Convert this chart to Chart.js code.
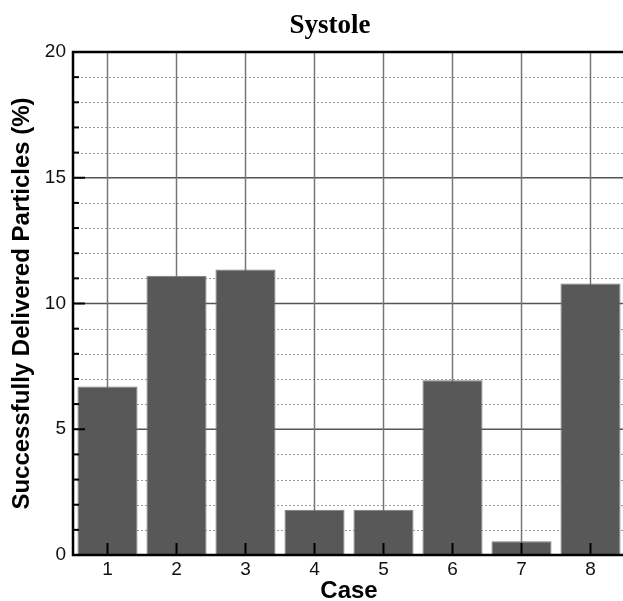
<!DOCTYPE html>
<html><head><meta charset="utf-8">
<script src="https://cdn.jsdelivr.net/npm/chart.js@4/dist/chart.umd.min.js"></script>
<style>html,body{margin:0;padding:0;overflow:hidden;background:#fff}#wrap{width:630px;height:601px}</style>
</head><body><div id="wrap"><canvas id="c" width="630" height="601"></canvas></div>
<script>
const chartTitle = 'Systole';
const xAxisTitle = 'Case';
const yAxisTitle = 'Successfully Delivered Particles (%)';
const categories = ['1','2','3','4','5','6','7','8'];
const delivered = [6.7, 11.1, 11.35, 1.8, 1.8, 6.95, 0.55, 10.8];
const yMin = 0, yMax = 20, yMajorStep = 5, yMinorStep = 1;

const framePlugin = {
  id: 'frame',
  beforeDatasetsDraw(chart) {
    const {ctx, chartArea: a, scales: {x, y}} = chart;
    ctx.save();
    ctx.strokeStyle = '#9a9a9a'; ctx.lineWidth = 1; ctx.setLineDash([2, 2]);
    for (let v = yMin + yMinorStep; v < yMax; v += yMinorStep) {
      if (v % yMajorStep === 0) continue;
      const py = Math.round(y.getPixelForValue(v)) + 0.5;
      ctx.beginPath(); ctx.moveTo(a.left, py); ctx.lineTo(a.right, py); ctx.stroke();
    }
    ctx.setLineDash([]);
    ctx.strokeStyle = '#555'; ctx.lineWidth = 1.5;
    for (let v = yMin + yMajorStep; v < yMax; v += yMajorStep) {
      const py = y.getPixelForValue(v);
      ctx.beginPath(); ctx.moveTo(a.left, py); ctx.lineTo(a.right, py); ctx.stroke();
    }
    ctx.strokeStyle = '#777'; ctx.lineWidth = 1.5;
    categories.forEach((c, i) => {
      const px = x.getPixelForValue(i);
      ctx.beginPath(); ctx.moveTo(px, a.top); ctx.lineTo(px, a.bottom); ctx.stroke();
    });
    ctx.restore();
  },
  afterDatasetsDraw(chart) {
    const {ctx, chartArea: a, scales: {x, y}} = chart;
    ctx.save();
    ctx.strokeStyle = '#000';
    ctx.lineWidth = 2;
    categories.forEach((c, i) => {
      const px = x.getPixelForValue(i);
      ctx.beginPath(); ctx.moveTo(px, a.bottom); ctx.lineTo(px, a.bottom - 12); ctx.stroke();
    });
    for (let v = yMin + yMinorStep; v < yMax; v += yMinorStep) {
      const py = y.getPixelForValue(v);
      const len = (v % yMajorStep === 0) ? 12 : 6;
      ctx.beginPath(); ctx.moveTo(a.left, py); ctx.lineTo(a.left + len, py); ctx.stroke();
    }
    ctx.lineWidth = 2.5;
    ctx.beginPath();
    ctx.moveTo(a.right + 10, a.top); ctx.lineTo(a.left, a.top);
    ctx.lineTo(a.left, a.bottom); ctx.lineTo(a.right + 10, a.bottom);
    ctx.stroke();
    ctx.restore();
  },
  afterDraw(chart) {
    const {ctx} = chart;
    ctx.save();
    ctx.fillStyle = '#000';
    ctx.font = 'bold 27px "Liberation Serif", "Times New Roman", serif';
    ctx.textAlign = 'center'; ctx.textBaseline = 'alphabetic';
    ctx.fillText(chartTitle, 330, 33);
    ctx.restore();
  }
};

const sans = '"Liberation Sans", Arial, sans-serif';
new Chart(document.getElementById('c'), {
  type: 'bar',
  data: {
    labels: categories,
    datasets: [{
      data: delivered,
      backgroundColor: '#585858',
      borderColor: '#787878',
      borderWidth: 1,
      barPercentage: 0.87,
      categoryPercentage: 1.0
    }]
  },
  options: {
    responsive: false,
    devicePixelRatio: 1,
    animation: false,
    layout: { padding: { top: 52, right: 5, left: 0, bottom: 0 } },
    plugins: { legend: { display: false }, tooltip: { enabled: false }, title: { display: false } },
    scales: {
      x: {
        type: 'category',
        offset: true,
        grid: { display: false, drawTicks: false, tickLength: 0 },
        border: { display: false },
        ticks: { color: '#111', font: { family: sans, size: 19 }, padding: 3, maxRotation: 0 },
        title: { display: true, text: xAxisTitle, color: '#000', font: { family: sans, size: 24, weight: 'bold' }, padding: { top: 0, bottom: -5 } },
        afterFit(s) { s.height = 46; }
      },
      y: {
        type: 'linear',
        min: yMin, max: yMax,
        grid: { display: false, drawTicks: false, tickLength: 0 },
        border: { display: false },
        ticks: { stepSize: yMajorStep, color: '#111', font: { family: sans, size: 19 }, padding: 7 },
        title: { display: true, text: yAxisTitle, color: '#000', font: { family: sans, size: 24, weight: 'bold' }, padding: { top: 8, bottom: 0 } },
        afterFit(s) { s.width = 73; }
      }
    }
  },
  plugins: [framePlugin]
});
</script>
</body></html>
